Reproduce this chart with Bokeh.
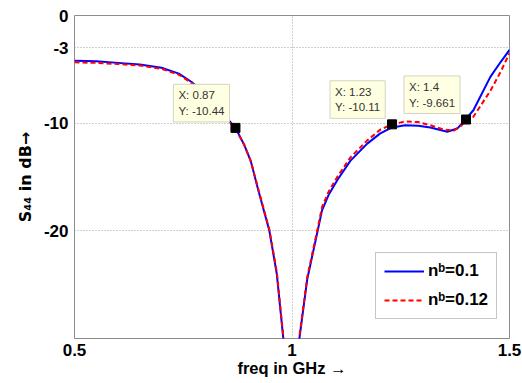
from bokeh.plotting import figure
from bokeh.models import Label, Range1d, FixedTicker, CustomJSTickFormatter
from bokeh.embed import file_html
from bokeh.resources import INLINE

# ---- data ----
freq_a = [0.50, 0.55, 0.60, 0.65, 0.70, 0.74, 0.77, 0.80, 0.83, 0.85, 0.87, 0.89, 0.905,
          0.923, 0.948, 0.965, 0.98, 0.99, 1.00, 1.01, 1.017, 1.035, 1.059, 1.069, 1.085,
          1.104, 1.134, 1.173, 1.203, 1.23, 1.26, 1.29, 1.318, 1.357, 1.38, 1.40, 1.417,
          1.456, 1.48, 1.50]
s44_a = [-4.2, -4.25, -4.4, -4.55, -4.85, -5.4, -6.2, -7.3, -8.6, -9.5, -10.44, -12.0, -13.5,
         -16.3, -20.0, -24.0, -30.0, -36.0, -45.0, -36.0, -30.0, -24.5, -20.0, -18.1, -16.6,
         -15.3, -13.5, -11.9, -10.95, -10.4, -10.2, -10.25, -10.4, -10.8, -10.5, -9.6, -8.8,
         -5.7, -4.3, -3.2]

freq_b = [0.50, 0.55, 0.60, 0.65, 0.70, 0.74, 0.77, 0.80, 0.83, 0.85, 0.87, 0.89, 0.905,
          0.923, 0.948, 0.965, 0.98, 0.99, 1.00, 1.01, 1.017, 1.035, 1.059, 1.069, 1.085,
          1.104, 1.134, 1.173, 1.203, 1.23, 1.26, 1.29, 1.318, 1.35, 1.372, 1.39, 1.40,
          1.417, 1.456, 1.48, 1.50]
s44_b = [-4.35, -4.4, -4.5, -4.65, -4.95, -5.5, -6.3, -7.4, -8.7, -9.6, -10.5, -12.0, -13.5,
         -16.2, -19.9, -23.8, -29.8, -36.0, -45.0, -36.0, -29.8, -24.3, -19.8, -17.8, -16.3,
         -15.0, -13.2, -11.6, -10.6, -10.11, -9.85, -9.9, -10.2, -10.6, -10.7, -10.2, -9.661,
         -9.4, -7.0, -5.2, -3.5]

tip_x = [0.87, 1.23, 1.4]
tip_y = [-10.44, -10.11, -9.661]
tip_text = ["X: 0.87\nY: -10.44", "X: 1.23\nY: -10.11", "X: 1.4\nY: -9.661"]

x_ticks = [0.5, 1, 1.5]
y_ticks = [0, -3, -10, -20]
series_labels = ["n\u1d47=0.1", "n\u1d47=0.12"]

FONT = "Liberation Sans"

p = figure(width=522, height=383, output_backend="svg", toolbar_location=None,
           x_range=Range1d(0.5, 1.5), y_range=Range1d(-30, 0),
           min_border_left=74, min_border_right=13, min_border_top=15, min_border_bottom=45)

p.background_fill_color = "white"
p.border_fill_color = "white"
p.outline_line_color = "#8c8c8c"
p.outline_line_width = 1

# axes
fmt = CustomJSTickFormatter(code="return String(tick);")
for ax in (p.xaxis[0], p.yaxis[0]):
    ax.formatter = fmt
    ax.axis_line_color = None
    ax.major_tick_line_color = None
    ax.minor_tick_line_color = None
    ax.major_tick_out = 0
    ax.major_tick_in = 0
    ax.major_label_text_font = FONT
    ax.major_label_text_font_style = "bold"
    ax.major_label_text_font_size = "17px"
    ax.major_label_text_color = "black"
    ax.axis_label_text_font = FONT
    ax.axis_label_text_font_style = "bold"
    ax.axis_label_text_font_size = "16.5px"
    ax.axis_label_text_color = "black"

p.xaxis.ticker = FixedTicker(ticks=x_ticks)
p.yaxis.ticker = FixedTicker(ticks=y_ticks)
p.xaxis.major_label_standoff = 5
p.yaxis.major_label_standoff = 6
p.xaxis.axis_label = "freq in GHz \u2192"
p.yaxis.axis_label = "S\u2084\u2084 in dB\u2192"
p.yaxis.axis_label_text_font = "DejaVu Sans"
p.yaxis.axis_label_text_font_size = "16px"
p.xaxis.axis_label_standoff = 0
p.yaxis.axis_label_standoff = 6

p.xgrid.ticker = FixedTicker(ticks=[1])
p.ygrid.ticker = FixedTicker(ticks=[-3, -10, -20])
for g in (p.xgrid[0], p.ygrid[0]):
    g.grid_line_color = "#a0a0a0"
    g.grid_line_dash = "1 2"
    g.grid_line_width = 1

# curves
p.line(freq_a, s44_a, color="#0000ff", line_width=2, legend_label=series_labels[0])
p.line(freq_b, s44_b, color="#ff0000", line_width=2, line_dash="5 3",
       legend_label=series_labels[1])

# data tips
p.scatter(tip_x, tip_y, marker="square", size=9, color="black")
for tx, ty, tt in zip(tip_x, tip_y, tip_text):
    p.add_layout(Label(x=tx, y=ty, text=tt, x_offset=-62, y_offset=6,
                       text_align="left", text_baseline="bottom",
                       text_font=FONT, text_font_size="11.5px", text_color="#333333",
                       text_line_height=1.3,
                       background_fill_color="#ffffe1", border_line_color="#d4d4c0",
                       padding=5))

# legend
lg = p.legend[0]
lg.location = (301, 19)
lg.label_text_font = FONT
lg.label_text_font_style = "bold"
lg.label_text_font_size = "17px"
lg.label_text_color = "black"
lg.glyph_width = 40
lg.glyph_height = 20
lg.label_height = 20
lg.spacing = 9
lg.padding = 8
lg.margin = 0
lg.label_standoff = 4
lg.border_line_color = "#8c8c8c"
lg.border_line_width = 1
lg.background_fill_color = "white"
lg.background_fill_alpha = 1

open("out.html", "w").write(file_html(p, INLINE))
